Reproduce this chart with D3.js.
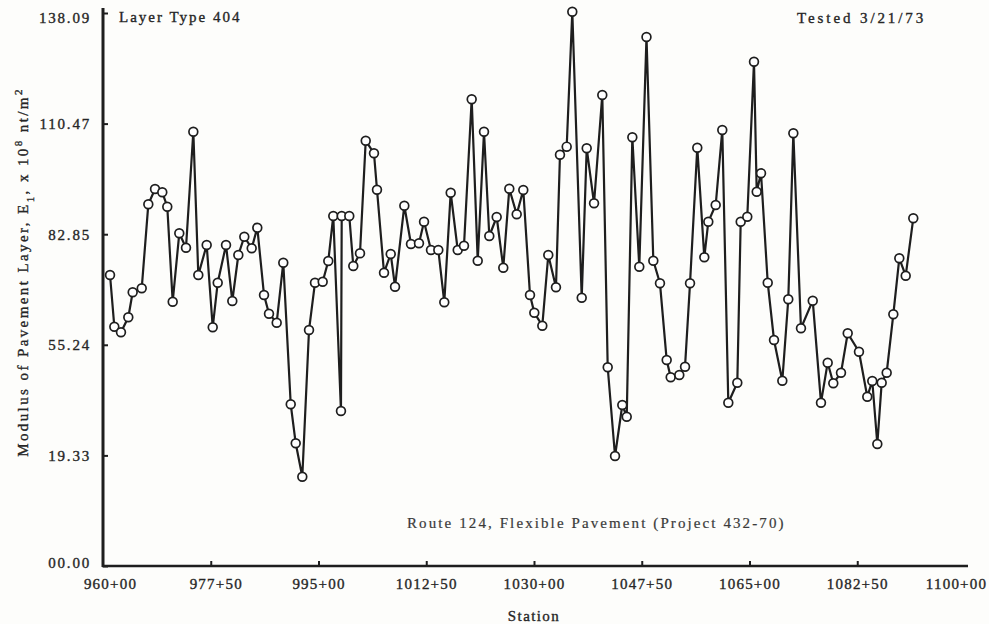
<!DOCTYPE html>
<html>
<head>
<meta charset="utf-8">
<script src="https://cdn.jsdelivr.net/npm/d3@7"></script>
<style>
  html, body { margin: 0; padding: 0; background: #fdfdfb; }
  svg { display: block; }
  text { font-family: "Liberation Serif", "Times New Roman", serif; fill: #262626; stroke: #262626; stroke-width: 0.35px; }
</style>
</head>
<body>
<svg id="chart" width="989" height="624"></svg>
<script>
// Station (ft) of each deflection test along the route
const stations = [
  96114, 96184, 96292, 96411, 96482, 96629, 96736, 96845, 96963, 97044,
  97132, 97239, 97348, 97467, 97548, 97684, 97782, 97863, 97998, 98100,
  98198, 98295, 98415, 98506, 98615, 98696, 98821, 98928, 99049, 99130,
  99237, 99346, 99443, 99568, 99659, 99740, 99865, 99877, 100000, 100065,
  100174, 100267, 100401, 100450, 100564, 100673, 100743, 100894, 101002, 101132,
  101214, 101327, 101446, 101543, 101647, 101761, 101863, 101988, 102086, 102188,
  102274, 102394, 102501, 102599, 102719, 102826, 102935, 103005, 103135, 103232,
  103357, 103422, 103531, 103622, 103775, 103856, 103975, 104109, 104197, 104316,
  104434, 104506, 104597, 104710, 104827, 104938, 105046, 105155, 105220, 105360,
  105453, 105534, 105652, 105766, 105831, 105951, 106058, 106156, 106302, 106357,
  106464, 106573, 106617, 106687, 106796, 106898, 107033, 107130, 107212, 107336,
  107527, 107661, 107770, 107861, 107986, 108095, 108278, 108413, 108494, 108576,
  108647, 108728, 108836, 108933, 109037, 109160
];

// Back-calculated modulus of the pavement layer, E1 (x 10^8 nt/m^2)
const modulus = [
  72.67, 59.76, 58.36, 62.10, 68.35, 69.35, 90.32, 94.14, 93.32, 89.72,
  66.00, 83.08, 79.48, 108.45, 72.67, 80.16, 59.61, 70.74, 80.16, 66.17,
  77.66, 82.23, 79.33, 84.48, 67.67, 63.00, 60.76, 75.74, 40.38, 30.64,
  22.30, 58.93, 70.74, 70.99, 76.16, 87.40, 38.71, 87.40, 87.40, 74.91,
  78.08, 106.20, 103.06, 93.97, 73.24, 77.91, 69.75, 89.97, 80.41, 80.58,
  85.98, 78.91, 78.91, 65.85, 93.22, 78.91, 79.98, 116.54, 76.24, 108.45,
  82.41, 87.15, 74.49, 94.22, 87.82, 93.89, 67.67, 63.25, 60.01, 77.66,
  69.59, 102.71, 104.71, 138.42, 67.00, 104.31, 90.57, 117.61, 49.62, 27.47,
  40.20, 37.28, 107.05, 74.74, 132.10, 76.24, 70.59, 51.44, 47.12, 47.70,
  49.77, 70.59, 104.46, 77.09, 85.98, 90.15, 108.87, 40.78, 45.77, 85.98,
  87.23, 125.93, 93.47, 98.06, 70.74, 56.44, 46.27, 66.60, 108.05, 59.36,
  66.25, 40.78, 50.77, 45.62, 48.27, 58.11, 53.51, 42.28, 46.20, 30.47,
  45.77, 48.27, 62.85, 76.84, 72.49, 86.83
];

// Axis ticks and their printed labels
const xTickValues = [96000, 97750, 99500, 101250, 103000, 104750, 106500, 108250, 110000];
const xTickLabels = ["960+00", "977+50", "995+00", "1012+50", "1030+00", "1047+50", "1065+00", "1082+50", "1100+00"];
const yTickValues = [0, 27.62, 55.24, 82.85, 110.47, 138.09];
const yTickLabels = ["00.00", "19.33", "55.24", "82.85", "110.47", "138.09"];

const data = stations.map((s, i) => ({ station: s, value: modulus[i] }));

const svg = d3.select("#chart");
const ink = "#1e1e1e";

const x = d3.scaleLinear().domain([96000, 110000]).range([103, 965]);
const y = d3.scaleLinear().domain([0, 138.09]).range([566, 13]);

// X axis
const gx = svg.append("g")
  .attr("transform", `translate(0,${y(0)})`)
  .call(d3.axisBottom(x)
    .tickValues(xTickValues)
    .tickFormat((d, i) => xTickLabels[i])
    .tickSizeInner(-5)
    .tickSizeOuter(0)
    .tickPadding(12));
gx.select(".domain").remove();
gx.selectAll(".tick line")
  .attr("stroke", ink).attr("stroke-width", 2)
  .attr("opacity", (d, i) => (i === 0 || i === xTickValues.length - 1) ? 0 : 1);
gx.selectAll(".tick text")
  .attr("font-family", null)
  .attr("dx", (d, i) => i === 0 ? 7 : (i === 1 ? 5 : (i === xTickValues.length - 1 ? -9 : 0)))
  .style("font-size", "15px")
  .style("letter-spacing", "1.2px");

// Y axis
const gy = svg.append("g")
  .attr("transform", `translate(${x(96000)},0)`)
  .call(d3.axisLeft(y)
    .tickValues(yTickValues)
    .tickFormat((d, i) => yTickLabels[i])
    .tickSizeInner(-5)
    .tickSizeOuter(0)
    .tickPadding(12));
gy.select(".domain").remove();
gy.selectAll(".tick line").attr("stroke", ink).attr("stroke-width", 2);
gy.selectAll(".tick text")
  .attr("font-family", null)
  .attr("dy", (d, i) => i === 0 ? "0.1em" : (i === yTickValues.length - 1 ? "0.65em" : "0.33em"))
  .style("font-size", "15px")
  .style("letter-spacing", "1.8px");

// Heavy axis lines
svg.append("line")
  .attr("x1", x(96000)).attr("x2", x(96000))
  .attr("y1", y(0) + 1).attr("y2", 8)
  .attr("stroke", ink).attr("stroke-width", 3);
svg.append("line")
  .attr("x1", x(96000) - 1).attr("x2", 968)
  .attr("y1", y(0)).attr("y2", y(0))
  .attr("stroke", ink).attr("stroke-width", 2.5);

// Data line
svg.append("path")
  .datum(data)
  .attr("fill", "none")
  .attr("stroke", ink)
  .attr("stroke-width", 2.2)
  .attr("stroke-linejoin", "miter")
  .attr("d", d3.line().x(d => x(d.station)).y(d => y(d.value)));

// Open circle markers
svg.append("g")
  .selectAll("circle")
  .data(data)
  .join("circle")
  .attr("cx", d => x(d.station))
  .attr("cy", d => y(d.value))
  .attr("r", 4.4)
  .attr("fill", "#ffffff")
  .attr("stroke", ink)
  .attr("stroke-width", 1.7);

// Annotations
svg.append("text")
  .attr("x", 119).attr("y", 22)
  .style("font-size", "15px").style("letter-spacing", "2px")
  .text("Layer Type 404");

svg.append("text")
  .attr("x", 797).attr("y", 23)
  .style("font-size", "15px").style("letter-spacing", "2.9px")
  .text("Tested 3/21/73");

svg.append("text")
  .attr("x", 407).attr("y", 528)
  .style("font-size", "15px").style("letter-spacing", "2.1px")
  .style("fill", "#3a3a3a").style("stroke", "#3a3a3a").style("stroke-width", "0.2px")
  .text("Route 124, Flexible Pavement (Project 432-70)");

// Axis titles
svg.append("text")
  .attr("x", 534).attr("y", 621)
  .attr("text-anchor", "middle")
  .style("font-size", "15px").style("letter-spacing", "1.4px")
  .text("Station");

const yTitle = svg.append("text")
  .attr("transform", "translate(28,272) rotate(-90)")
  .attr("text-anchor", "middle")
  .style("font-size", "15px").style("letter-spacing", "2.4px");
yTitle.append("tspan").text("Modulus of Pavement Layer, E");
yTitle.append("tspan").attr("baseline-shift", "sub").style("font-size", "11px").text("1");
yTitle.append("tspan").text(", x 10");
yTitle.append("tspan").attr("baseline-shift", "super").style("font-size", "11px").text("8");
yTitle.append("tspan").text(" nt/m");
yTitle.append("tspan").attr("baseline-shift", "super").style("font-size", "11px").text("2");
</script>
</body>
</html>
